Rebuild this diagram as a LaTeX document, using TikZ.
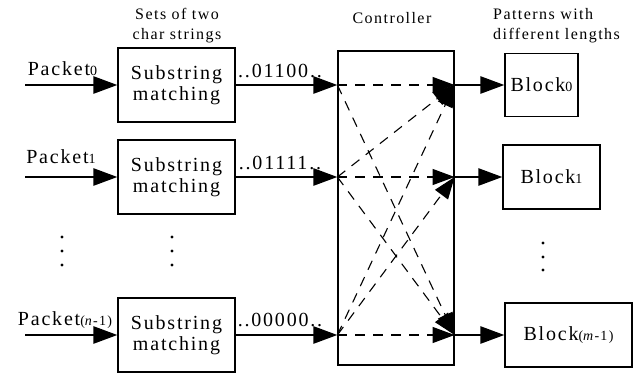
\documentclass[tikz,border=0pt]{standalone}
\usepackage{fontspec}
\setmainfont{Liberation Serif}[LetterSpace=9]
\usetikzlibrary{arrows.meta, calc}
\newcommand{\idx}[1]{{\fontsize{14}{14}\selectfont #1}}
\tikzset{
    box/.style={draw, line width=1.2pt, align=center, inner sep=0pt},
    big/.style={font=\fontsize{20}{21}\selectfont},
    note/.style={font=\fontsize{16}{20}\selectfont, inner sep=0pt},
    flow/.style={line width=2.6pt, -{Triangle[length=24pt,width=17pt]}},
    route/.style={line width=1.1pt, dash pattern=on 10pt off 8pt, -{Triangle[length=22pt,width=16pt]}},
}

\begin{document}
\begin{tikzpicture}[x=1pt,y=-1pt]
    \useasboundingbox (0,0) rectangle (641,375);
    % Draw substring matching boxes
    \node[box, big, minimum width=117pt, minimum height=74pt] (sm0) at (176.5,85) {Substring\\matching};
    \node[box, big, minimum width=117pt, minimum height=74pt] (sm1) at (176.5,177) {Substring\\matching};
    \node[box, big, minimum width=117pt, minimum height=74pt] (sm2) at (176.5,335) {Substring\\matching};
    % Draw controller
    \node[box, minimum width=116pt, minimum height=314pt] (ctrl) at (396,208) {};
    % Draw pattern blocks
    \node[box, big, minimum width=73pt, minimum height=63pt] (blk0) at (541.5,85) {Block\idx{0}};
    \node[box, big, minimum width=97pt, minimum height=64pt] (blk1) at (551.5,177) {Block\idx{1}};
    \node[box, big, minimum width=127pt, minimum height=64pt] (blk2) at (568.5,335) {Block\idx{(\textit{m}-1)}};
    % Headings
    \node[note, align=center, anchor=base] (sets) at (177,39) {Sets of two\\char strings};
    \node[note, anchor=base] (ctrltxt) at (392,23) {Controller};
    \node[note, align=left, anchor=base west] (pats) at (493,39) {Patterns with\\different lengths};
    % Input packets
    \foreach \i/\y in {0/85, 1/177, 2/335}
    {
        \coordinate (in\i) at (25,\y);
        \coordinate (cl\i) at (ctrl.west |- sm\i.east);
        \coordinate (cr\i) at (ctrl.east |- sm\i.east);
        \draw[flow] (in\i) -- (sm\i.west);
        \draw[flow] (sm\i.east) -- (cl\i);
        \draw[flow] (cr\i) -- (blk\i.west);
    }
    \node[big, anchor=base, inner sep=0pt] (pk0) at (62.5,75) {Packet\idx{0}};
    \node[big, anchor=base, inner sep=0pt] (pk1) at (61,163) {Packet\idx{1}};
    \node[big, anchor=base, inner sep=0pt] (pk2) at (65,325) {Packet\idx{(\textit{n}-1)}};
    % Bit strings
    \node[big, anchor=base, inner sep=0pt] (bits0) at (280,77) {..01100..};
    \node[big, anchor=base, inner sep=0pt] (bits1) at (280,169) {..01111..};
    \node[big, anchor=base, inner sep=0pt] (bits2) at (280,326) {..00000..};
    % Routes inside the controller
    \foreach \a/\b in {0/0, 0/2, 1/0, 1/1, 1/2, 2/0, 2/1, 2/2}
    {
        \draw[route] (cl\a) -- (cr\b);
    }
    % Dots
    \foreach \x in {62, 172}
    {
        \foreach \y in {237, 251, 265}
        {
            \fill (\x,\y) circle (1.6pt);
        }
    }
    \foreach \y in {243, 257, 270}
    {
        \fill (543,\y) circle (1.6pt);
    }
\end{tikzpicture}
\end{document}
